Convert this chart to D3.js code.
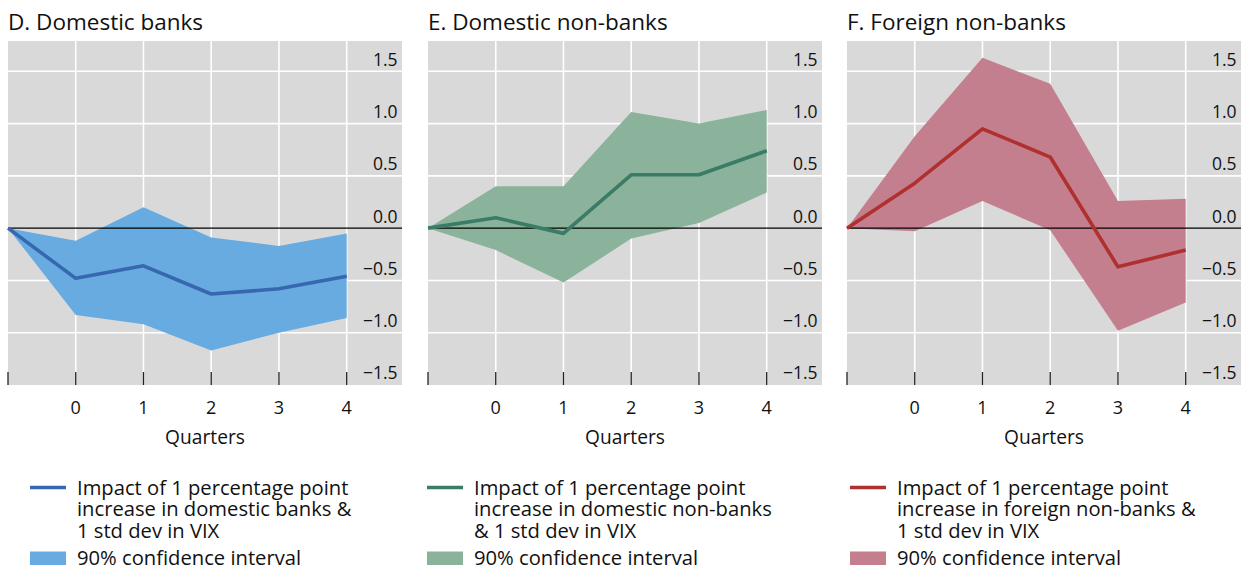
<!DOCTYPE html>
<html>
<head>
<meta charset="utf-8">
<script src="https://cdn.jsdelivr.net/npm/d3@7/dist/d3.min.js"></script>
<style>
  html, body { margin: 0; padding: 0; background: #ffffff; }
  svg { display: block; font-family: "Open Sans", "Noto Sans", sans-serif; }
</style>
</head>
<body>
<svg id="chart" width="1249" height="569"></svg>
<script>
// Quarters after the shock (-1 is the starting point)
const quarters = [-1, 0, 1, 2, 3, 4];
const xTickLabels = [0, 1, 2, 3, 4];
const yTicks = [-1.5, -1.0, -0.5, 0.0, 0.5, 1.0, 1.5];

const panelTitles = ["D. Domestic banks", "E. Domestic non-banks", "F. Foreign non-banks"];

// Point estimates
const domesticBanksImpact    = [0, -0.48, -0.36, -0.63, -0.58, -0.46];
const domesticNonBanksImpact = [0, 0.10, -0.05, 0.51, 0.51, 0.74];
const foreignNonBanksImpact  = [0, 0.43, 0.95, 0.68, -0.37, -0.21];

// 90% confidence bands
const domesticBanksLower    = [0, -0.83, -0.92, -1.17, -1.00, -0.86];
const domesticBanksUpper    = [0, -0.12, 0.20, -0.09, -0.17, -0.05];
const domesticNonBanksLower = [0, -0.21, -0.52, -0.10, 0.05, 0.34];
const domesticNonBanksUpper = [0, 0.40, 0.40, 1.11, 1.00, 1.13];
const foreignNonBanksLower  = [0, -0.03, 0.26, -0.02, -0.98, -0.71];
const foreignNonBanksUpper  = [0, 0.88, 1.63, 1.38, 0.26, 0.28];

const legendLineLabels = [
  ["Impact of 1 percentage point", "increase in domestic banks &", "1 std dev in VIX"],
  ["Impact of 1 percentage point", "increase in domestic non-banks", "& 1 std dev in VIX"],
  ["Impact of 1 percentage point", "increase in foreign non-banks &", "1 std dev in VIX"]
];
const legendBandLabel = "90% confidence interval";

const panels = [
  { title: panelTitles[0], impact: domesticBanksImpact, lower: domesticBanksLower, upper: domesticBanksUpper,
    lines: legendLineLabels[0], x0: 8, legendX: 30, line: "#3767b1", band: "#68abe0" },
  { title: panelTitles[1], impact: domesticNonBanksImpact, lower: domesticNonBanksLower, upper: domesticNonBanksUpper,
    lines: legendLineLabels[1], x0: 428, legendX: 427, line: "#3b7c66", band: "#8bb39b" },
  { title: panelTitles[2], impact: foreignNonBanksImpact, lower: foreignNonBanksLower, upper: foreignNonBanksUpper,
    lines: legendLineLabels[2], x0: 847, legendX: 850, line: "#b0302f", band: "#c47f8e" }
];

const svg = d3.select("#chart");
const plotTop = 41, plotBottom = 385, plotWidth = 394;

const y = d3.scaleLinear().domain([-1.5, 1.5]).range([plotBottom, 71.3]);

panels.forEach(p => {
  const g = svg.append("g").attr("transform", `translate(${p.x0},0)`);
  const x = d3.scaleLinear().domain([-1, 4]).range([0, 338.7]);

  // title
  g.append("text").attr("x", 0).attr("y", 30)
    .attr("font-size", 22.5).attr("fill", "#111")
    .text(p.title);

  // plot background
  g.append("rect").attr("x", 0).attr("y", plotTop)
    .attr("width", plotWidth).attr("height", plotBottom - plotTop)
    .attr("fill", "#d9d9d9");

  // horizontal grid
  g.selectAll("line.hgrid").data(yTicks.filter(v => v !== 0 && v !== -1.5)).join("line")
    .attr("class", "hgrid")
    .attr("x1", 0).attr("x2", plotWidth)
    .attr("y1", d => y(d)).attr("y2", d => y(d))
    .attr("stroke", "#ffffff").attr("stroke-width", 1.6);

  // vertical grid
  g.selectAll("line.vgrid").data(xTickLabels).join("line")
    .attr("class", "vgrid")
    .attr("x1", d => x(d)).attr("x2", d => x(d))
    .attr("y1", plotTop).attr("y2", plotBottom)
    .attr("stroke", "#ffffff").attr("stroke-width", 1.6);

  // confidence band
  const area = d3.area()
    .x((d, i) => x(quarters[i]))
    .y0((d, i) => y(p.lower[i]))
    .y1((d, i) => y(p.upper[i]));
  g.append("path").datum(quarters).attr("d", area).attr("fill", p.band);

  // zero line
  g.append("line").attr("x1", 0).attr("x2", plotWidth)
    .attr("y1", y(0)).attr("y2", y(0))
    .attr("stroke", "#000").attr("stroke-width", 1.2);

  // impact line
  const line = d3.line().x((d, i) => x(quarters[i])).y(d => y(d));
  g.append("path").datum(p.impact).attr("d", line)
    .attr("fill", "none").attr("stroke", p.line).attr("stroke-width", 3.6)
    .attr("stroke-linejoin", "round");

  // bottom ticks
  g.selectAll("line.xtick").data(quarters).join("line")
    .attr("class", "xtick")
    .attr("x1", d => x(d)).attr("x2", d => x(d))
    .attr("y1", plotBottom - 13).attr("y2", plotBottom)
    .attr("stroke", "#222").attr("stroke-width", 1.3);

  // y tick labels (right side, above gridlines)
  g.selectAll("text.ylab").data(yTicks).join("text")
    .attr("class", "ylab")
    .attr("x", 389.5).attr("y", d => y(d) - 5.6)
    .attr("text-anchor", "end").attr("font-size", 17.5).attr("fill", "#111")
    .text(d => d3.format(".1f")(d).replace("-", "\u2212"));

  // x tick labels
  g.selectAll("text.xlab").data(xTickLabels).join("text")
    .attr("class", "xlab")
    .attr("x", d => x(d)).attr("y", 413.5)
    .attr("text-anchor", "middle").attr("font-size", 18).attr("fill", "#111")
    .text(d => d);

  g.append("text").attr("x", plotWidth / 2).attr("y", 444)
    .attr("text-anchor", "middle").attr("font-size", 19.2).attr("fill", "#111")
    .text("Quarters");

  // legend
  const lg = svg.append("g").attr("transform", `translate(${p.legendX},0)`);
  lg.append("line").attr("x1", 0).attr("x2", 36).attr("y1", 487.5).attr("y2", 487.5)
    .attr("stroke", p.line).attr("stroke-width", 3.6);
  lg.selectAll("text.ll").data(p.lines).join("text")
    .attr("class", "ll")
    .attr("x", 47).attr("y", (d, i) => 494.5 + i * 21.7)
    .attr("font-size", 20.2).attr("fill", "#111")
    .text(d => d);
  lg.append("rect").attr("x", 0).attr("y", 551.5).attr("width", 36).attr("height", 13.5)
    .attr("fill", p.band);
  lg.append("text").attr("x", 47).attr("y", 564.5)
    .attr("font-size", 20.2).attr("fill", "#111")
    .text(legendBandLabel);
});
</script>
</body>
</html>
